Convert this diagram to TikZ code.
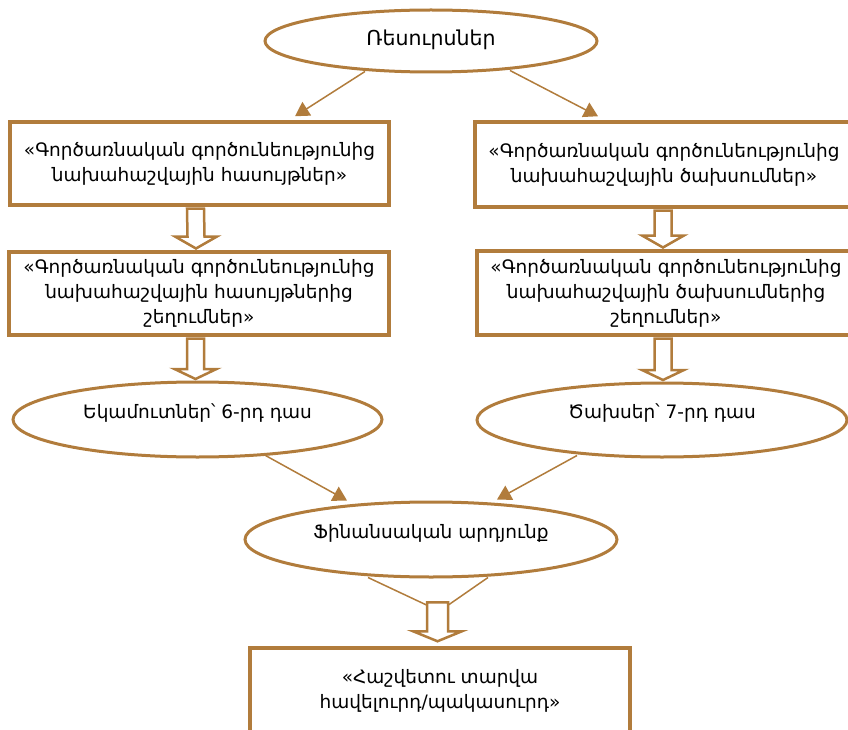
\documentclass[tikz,border=0pt]{standalone}
\usepackage{fontspec}
\setmainfont{DejaVu Sans}
\usepackage{tikz}
\usetikzlibrary{arrows.meta,shapes.geometric,calc}
\definecolor{bronze}{RGB}{177,124,60}

\newcommand{\hollowdown}[5]{%
  \draw[hollow] ($(#1)+(-#3,0)$) -- ($(#2)+(-#3,#5)$) -- ($(#2)+(-#4,#5)$) -- (#2)
    -- ($(#2)+(#4,#5)$) -- ($(#2)+(#3,#5)$) -- ($(#1)+(#3,0)$) -- cycle;}

\begin{document}
\begin{tikzpicture}[x=1pt,y=1pt,>={Triangle[width=16pt,length=14pt]},
  every node/.style={font=\fontsize{18.5}{25}\selectfont},
  box/.style={draw=bronze,line width=3.5pt,fill=white,align=center,inner sep=0pt},
  oval/.style={ellipse,draw=bronze,line width=3pt,fill=white,inner sep=0pt,text depth=17pt},
  hollow/.style={draw=bronze,line width=2.5pt,fill=white,line join=miter},
  link/.style={draw=bronze,line width=1.5pt}]
  \useasboundingbox (0,0) rectangle (848,-730);
  \clip (0,0) rectangle (848,-730);
  \node[oval,minimum width=332,minimum height=62,text depth=6pt,
    font=\fontsize{20.5}{25}\selectfont] (res) at (431,-41) {Ռեսուրսներ};
  \node[box,minimum width=379,minimum height=83] (lrev) at (199.5,-163.5)
    {«Գործառնական գործունեությունից\\նախահաշվային հասույթներ»};
  \node[box,minimum width=378,minimum height=85] (rexp) at (664,-164.5)
    {«Գործառնական գործունեությունից\\նախահաշվային ծախսումներ»};
  \node[box,minimum width=380,minimum height=83] (ldev) at (199,-293.5)
    {«Գործառնական գործունեությունից\\նախահաշվային հասույթներից\\շեղումներ»};
  \node[box,minimum width=378,minimum height=84] (rdev) at (666,-293)
    {«Գործառնական գործունեությունից\\նախահաշվային ծախսումներից\\շեղումներ»};
  \node[oval,minimum width=369,minimum height=75] (inc) at (197.5,-419.5) {Եկամուտներ՝ 6-րդ դաս};
  \node[oval,minimum width=370,minimum height=74] (exp) at (662,-420) {Ծախսեր՝ 7-րդ դաս};
  \node[oval,minimum width=372,minimum height=75] (fin) at (431,-539.5) {Ֆինանսական արդյունք};
  \node[box,minimum width=380,minimum height=86] (surp) at (440,-691)
    {«Հաշվետու տարվա\\հավելուրդ/պակասուրդ»};
  \draw[link,->] ($(res.south)+(-66,2)$) -- ($(lrev.north)+(95.5,4)$);
  \draw[link,->] ($(res.south)+(79,3)$) -- ($(rexp.north)+(-66,4)$);
  \draw[link,->] ($(inc.south)+(68,3)$) -- ($(fin.north)+(-84,0)$);
  \draw[link,->] ($(exp.south)+(-85,3)$) -- ($(fin.north)+(66,1)$);
  \coordinate (a1) at ($(lrev.south)+(-4,-1.75)$);
  \coordinate (a1t) at ($(ldev.north)+(-3,1.75)$);
  \coordinate (a2) at ($(rexp.south)+(-1,-1.75)$);
  \coordinate (a2t) at ($(rdev.north)+(-3,1.75)$);
  \coordinate (a3) at ($(ldev.south)+(-3.5,-1.75)$);
  \coordinate (a3t) at ($(inc.north)+(-2,1.5)$);
  \coordinate (a4) at ($(rdev.south)+(-3,-1.75)$);
  \coordinate (a4t) at ($(exp.north)+(1,1.5)$);
  \coordinate (a5) at ($(surp.north)+(-2.5,44)$);
  \coordinate (a5t) at ($(surp.north)+(-2.5,5)$);
  \draw[link] ($(fin.south)+(-63,1)$) -- ($(a5)+(-10.5,-3)$);
  \draw[link] ($(fin.south)+(57,1)$) -- ($(a5)+(10.5,-3)$);
  \hollowdown{a1}{a1t}{8.5}{21}{12}
  \hollowdown{a2}{a2t}{8.5}{21}{12}
  \hollowdown{a3}{a3t}{8.5}{21}{10}
  \hollowdown{a4}{a4t}{8.5}{21}{10}
  \hollowdown{a5}{a5t}{10.5}{24.5}{10}
\end{tikzpicture}
\end{document}
